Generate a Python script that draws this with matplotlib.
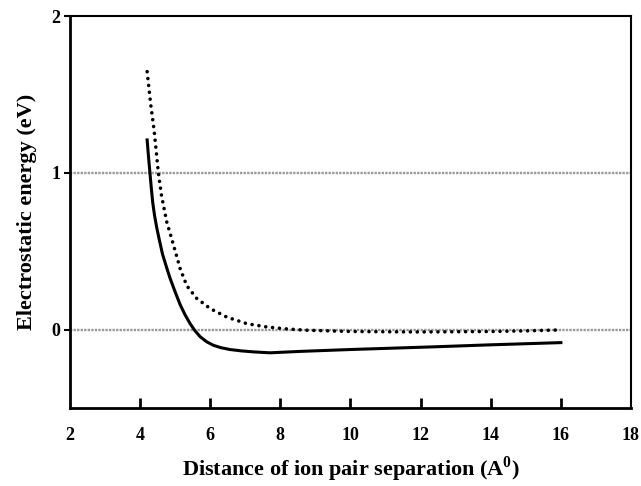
import matplotlib.pyplot as plt

plt.rcParams['font.family'] = ['Liberation Serif', 'DejaVu Serif']
plt.rcParams['font.weight'] = 'bold'
plt.rcParams['mathtext.fontset'] = 'custom'
plt.rcParams['mathtext.rm'] = 'Liberation Serif:bold'
plt.rcParams['mathtext.bf'] = 'Liberation Serif:bold'

# solid curve
solid_x = [4.2, 4.24, 4.28, 4.32, 4.36, 4.41, 4.47, 4.54, 4.64, 4.75, 4.85, 5.0,
           5.14, 5.28, 5.42, 5.56, 5.71, 5.9, 6.09, 6.3, 6.56, 6.9, 7.23, 7.7,
           8.56, 10.0, 12.36, 14.0, 16.0]
solid_y = [1.21, 1.10, 1.00, 0.90, 0.81, 0.73, 0.655, 0.58, 0.48, 0.40, 0.33, 0.24,
           0.16, 0.095, 0.04, -0.006, -0.045, -0.078, -0.10, -0.115, -0.127, -0.136,
           -0.142, -0.148, -0.139, -0.127, -0.11, -0.097, -0.083]

# dotted curve
dot_x = [4.2, 4.3, 4.4, 4.52, 4.61, 4.76, 4.9, 5.04, 5.14, 5.33, 5.61, 6.0,
         6.47, 7.04, 7.61, 8.2, 8.75, 10.0, 12.0, 14.0, 15.0, 16.0]
dot_y = [1.645, 1.44, 1.27, 1.0, 0.855, 0.686, 0.58, 0.47, 0.39, 0.28, 0.20, 0.134,
         0.08, 0.038, 0.017, 0.004, -0.004, -0.012, -0.015, -0.012, -0.008, -0.002]

ref_levels = [0, 1]
x_ticks = [2, 4, 6, 8, 10, 12, 14, 16, 18]
y_ticks = [0, 1, 2]

fig = plt.figure(figsize=(6.41, 4.86), dpi=100)
ax = fig.add_axes([0.1092, 0.1605, 0.8752, 0.8065])

for lv in ref_levels:
    ax.axhline(lv, color='#9a9a9a', linewidth=1.7, linestyle=(0, (1, 0.5)), zorder=1)

ax.plot(solid_x, solid_y, color='black', linewidth=2.2, zorder=3)
ax.plot(dot_x, dot_y, color='black', linewidth=2.6, linestyle=(0, (0.01, 1.9)),
        dash_capstyle='round', zorder=3)

ax.set_xlim(2, 18)
ax.set_ylim(-0.5, 2)
ax.set_xticks(x_ticks)
ax.set_yticks(y_ticks)
ax.tick_params(axis='x', direction='in', length=7, width=2, pad=14, labelsize=13)
ax.tick_params(axis='y', direction='out', length=4, width=1.5, pad=3, labelsize=13)
for lbl in ax.get_xticklabels() + ax.get_yticklabels():
    lbl.set_fontweight('bold')
# no tick marks at the x-axis ends
xt = ax.xaxis.get_major_ticks()
xt[0].tick1line.set_visible(False)
xt[-1].tick1line.set_visible(False)

ax.spines['left'].set_linewidth(2)
ax.spines['bottom'].set_linewidth(2)
ax.spines['top'].set_linewidth(1.5)
ax.spines['right'].set_linewidth(1.5)

ax.set_xlabel('Distance of ion pair separation (A$^{\\mathbf{0}}$)', fontsize=16,
              fontweight='bold', labelpad=7)
ax.set_ylabel('Electrostatic energy (eV)', fontsize=16, fontweight='bold', labelpad=10)

fig.savefig('out.png', dpi=100)
